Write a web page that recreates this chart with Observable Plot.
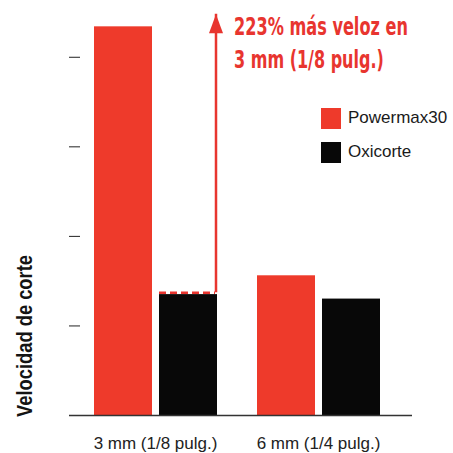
<!DOCTYPE html>
<html><head><meta charset="utf-8">
<script src="https://cdn.jsdelivr.net/npm/d3@7"></script>
<script src="https://cdn.jsdelivr.net/npm/@observablehq/plot@0.6"></script>
<style>
body{margin:0;background:#fff;}
#chart{position:relative;width:453px;height:453px;overflow:hidden;}
#legend{position:absolute;left:321px;top:101px;font-family:"Liberation Sans",Arial,sans-serif;font-size:17px;color:#1a1a1a;}
#legend .item{display:flex;align-items:center;height:34px;}
#legend .sw{width:20px;height:21px;margin-right:7px;}
#ylabel{position:absolute;left:25px;top:336px;white-space:nowrap;font-family:"Liberation Sans",Arial,sans-serif;font-weight:bold;font-size:22px;line-height:1;color:#141414;}
</style></head><body><div id="chart"></div>
<script>
const categories = ["3 mm (1/8 pulg.)", "6 mm (1/4 pulg.)"];
const series = ["Powermax30", "Oxicorte"];
const powermax = [4.34, 1.56];
const oxicorte = [1.35, 1.30];
const colors = ["#ee3a2b", "#080808"];
const yTicks = [1, 2, 3, 4];
const yLabel = "Velocidad de corte";
const annotationLines = ["223% más veloz en", "3 mm (1/8 pulg.)"];
const arrowFrom = 1.37;
const arrowTo = 4.48;

const accent = "#e8352f";
const data = [];
categories.forEach((c, i) => {
  data.push({cat: c, series: series[0], value: powermax[i]});
  data.push({cat: c, series: series[1], value: oxicorte[i]});
});
const annot = [{cat: categories[0], series: series[1], y1: arrowFrom, y2: arrowTo}];
const baseline = [{cat: categories[0], y: 0}];

const head = {draw(ctx) { ctx.moveTo(0, 0); ctx.lineTo(7, 19); ctx.lineTo(-7, 19); ctx.closePath(); }};
const annotFont = "'Liberation Sans Narrow', 'DejaVu Sans Condensed', sans-serif";

const svg = Plot.plot({
  width: 453, height: 453,
  marginLeft: 69, marginRight: 41, marginTop: 12, marginBottom: 38,
  style: {fontFamily: "'Liberation Sans', Arial, sans-serif", fontSize: "17px", color: "#222", background: "#fff"},
  fx: {domain: categories, paddingInner: 0.08, paddingOuter: 0.092, align: 0.367, label: null, tickSize: 0, tickPadding: 21},
  x: {domain: series, paddingInner: 0.11, paddingOuter: 0.2, axis: null},
  y: {domain: [0, 4.5], ticks: yTicks, tickSize: 11, tickFormat: () => "", label: null},
  color: {domain: series, range: colors},
  marks: [
    Plot.barY(data, {fx: "cat", x: "series", y: "value", fill: "series"}),
    Plot.ruleY(baseline, {fx: "cat", y: "y", insetLeft: -11, insetRight: -182, stroke: "#333", strokeWidth: 1.6}),
    Plot.tickY(annot, {fx: "cat", x: "series", y: "y1", stroke: accent, strokeWidth: 2.5, strokeDasharray: "7,4", insetRight: 2}),
    Plot.ruleX(annot, {fx: "cat", x: "series", y1: "y1", y2: "y2", dx: 27.5, stroke: accent, strokeWidth: 2.5}),
    Plot.dot(annot, {fx: "cat", x: "series", y: "y2", dx: 27.5, symbol: head, fill: accent, stroke: "none", r: 5}),
    Plot.text(annot, {fx: "cat", x: "series", y: "y2", text: () => annotationLines[0], dx: 45.5, dy: 3, lineAnchor: "top", textAnchor: "start", fill: accent, fontSize: 25, fontWeight: "bold", fontFamily: annotFont}),
    Plot.text(annot, {fx: "cat", x: "series", y: "y2", text: () => annotationLines[1], dx: 45.5, dy: 35.5, lineAnchor: "top", textAnchor: "start", fill: accent, fontSize: 25, fontWeight: "bold", fontFamily: annotFont})
  ]
});
const chart = document.getElementById("chart");
chart.appendChild(svg);

const fits = [174, 150];
d3.select(svg).selectAll("text").each(function() {
  const k = annotationLines.indexOf(this.textContent);
  const g = this.parentNode;
  if (k < 0 || g.getAttribute("fill") !== accent) return;
  const w = this.getComputedTextLength();
  const sx = fits[k] / w;
  const tr = this.getAttribute("transform") || "";
  this.setAttribute("transform", tr + ` scale(${sx},1)`);
});

const legend = document.createElement("div");
legend.id = "legend";
series.forEach((s, i) => {
  const item = document.createElement("div"); item.className = "item";
  const sw = document.createElement("span"); sw.className = "sw"; sw.style.background = colors[i];
  const t = document.createElement("span"); t.textContent = s;
  item.appendChild(sw); item.appendChild(t); legend.appendChild(item);
});
chart.appendChild(legend);

const yl = document.createElement("div");
yl.id = "ylabel"; yl.textContent = yLabel;
chart.appendChild(yl);
const natural = yl.getBoundingClientRect().width;
const ysx = 162 / natural;
yl.style.transform = `translate(-50%,-50%) rotate(-90deg) scaleX(${ysx})`;
</script></body></html>
